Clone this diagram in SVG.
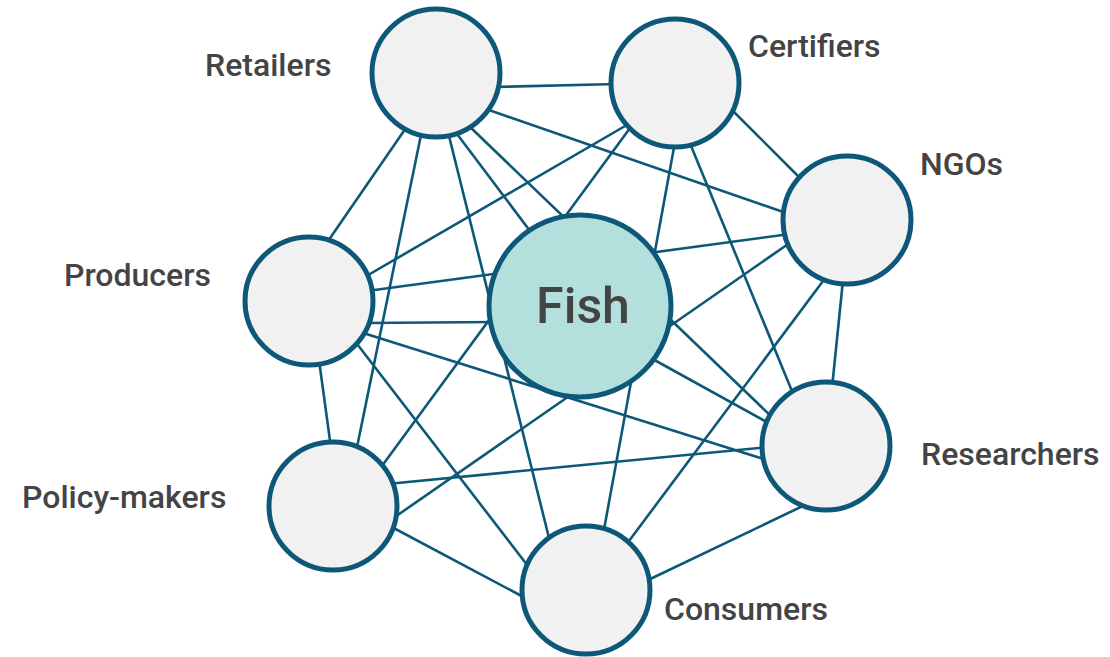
<svg xmlns="http://www.w3.org/2000/svg" width="1110" height="657" viewBox="0 0 1110 657">
<style>
.edge{stroke:#0d5878;stroke-width:2.6;fill:none}
.node{fill:#f1f1f1;stroke:#0d5878;stroke-width:5}
.fish{fill:#b3e0dd;stroke:#0d5878;stroke-width:5}
.lbl{font-family:Roboto,"Liberation Sans",sans-serif;font-size:32px;font-weight:500;fill:#444444}
.big{font-family:Roboto,"Liberation Sans",sans-serif;font-size:50px;font-weight:500;fill:#444444;text-anchor:middle}
</style>
<rect width="1110" height="657" fill="#ffffff"/>
<g id="connectors">
<line class="edge" x1="493" y1="87" x2="618" y2="84"/>
<line class="edge" x1="486" y1="109" x2="789" y2="214"/>
<line class="edge" x1="408" y1="125" x2="326" y2="244"/>
<line class="edge" x1="422" y1="130" x2="356" y2="452"/>
<line class="edge" x1="448" y1="132" x2="550" y2="542"/>
<line class="edge" x1="454" y1="130" x2="533" y2="235"/>
<line class="edge" x1="468" y1="125" x2="774" y2="419"/>
<line class="edge" x1="632" y1="122" x2="363" y2="278"/>
<line class="edge" x1="633" y1="124" x2="379" y2="470"/>
<line class="edge" x1="675" y1="142" x2="603" y2="535"/>
<line class="edge" x1="689" y1="141" x2="794" y2="396"/>
<line class="edge" x1="730" y1="108" x2="804" y2="182"/>
<line class="edge" x1="790" y1="234" x2="367" y2="291"/>
<line class="edge" x1="843" y1="280" x2="832" y2="388"/>
<line class="edge" x1="791" y1="242" x2="392" y2="519"/>
<line class="edge" x1="826" y1="277" x2="626" y2="545"/>
<line class="edge" x1="360" y1="332" x2="770" y2="461"/>
<line class="edge" x1="319" y1="360" x2="331" y2="448"/>
<line class="edge" x1="354" y1="340" x2="531" y2="570"/>
<line class="edge" x1="365" y1="323" x2="497" y2="322"/>
<line class="edge" x1="769" y1="447" x2="387" y2="484"/>
<line class="edge" x1="807" y1="504" x2="644" y2="582"/>
<line class="edge" x1="388" y1="525" x2="529" y2="600"/>
<line class="edge" x1="649" y1="357" x2="772" y2="425"/>
</g>
<g id="retailers"><circle class="node" cx="436" cy="73" r="64"/><text class="lbl" x="205" y="76">Retailers</text></g>
<g id="certifiers"><circle class="node" cx="675" cy="83" r="64"/><text class="lbl" x="748" y="57">Certifiers</text></g>
<g id="ngos"><circle class="node" cx="847" cy="220" r="64"/><text class="lbl" x="920" y="175">NGOs</text></g>
<g id="producers"><circle class="node" cx="309" cy="301" r="64"/><text class="lbl" x="64" y="286">Producers</text></g>
<g id="fish"><circle class="fish" cx="580" cy="306" r="91"/><text class="big" x="583" y="323">Fish</text></g>
<g id="researchers"><circle class="node" cx="826" cy="446" r="64"/><text class="lbl" x="921" y="465">Researchers</text></g>
<g id="policy-makers"><circle class="node" cx="333" cy="506" r="64"/><text class="lbl" x="22" y="508">Policy-makers</text></g>
<g id="consumers"><circle class="node" cx="586" cy="590" r="64"/><text class="lbl" x="664" y="620">Consumers</text></g>
</svg>
